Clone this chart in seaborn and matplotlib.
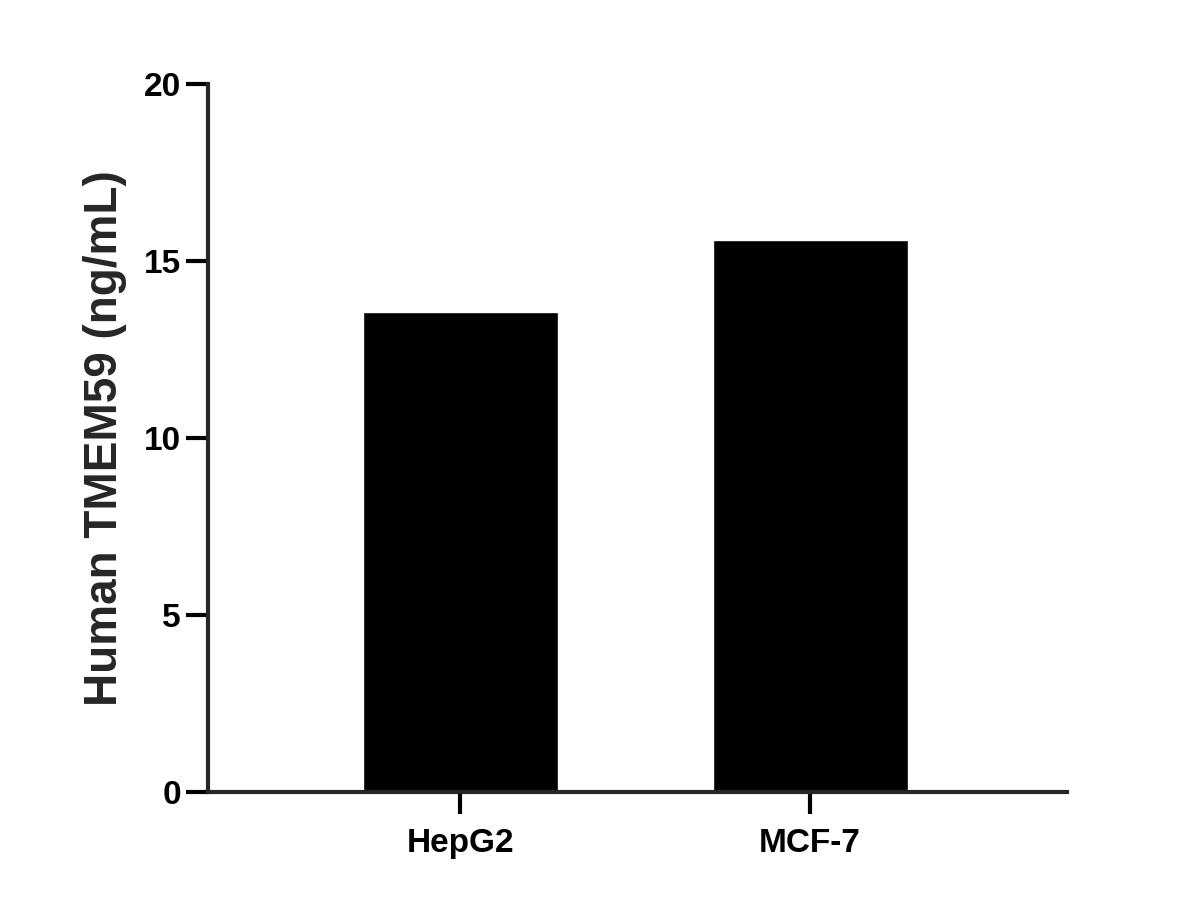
import matplotlib
matplotlib.use("Agg")
import matplotlib.pyplot as plt
import seaborn as sns
import pandas as pd

# values
cell_lines = ["HepG2", "MCF-7"]
tmem59 = [13.56, 15.58]
y_ticks = [0, 5, 10, 15, 20]

df = pd.DataFrame({"line": cell_lines, "value": tmem59})

sns.set_style("ticks")
plt.rcParams["font.family"] = ["Liberation Sans", "DejaVu Sans"]
plt.rcParams["font.weight"] = "bold"

fig = plt.figure(figsize=(12.03, 9.08), dpi=100)
ax = fig.add_axes([0.173, 0.128, 0.714, 0.7795])

sns.barplot(data=df, x="line", y="value", color="black", width=0.557,
            saturation=1, ax=ax)

ax.set_xlim(-0.72, 1.734)
ax.set_ylim(0, 20)
ax.set_yticks(y_ticks)
ax.set_xlabel("")
ax.set_ylabel("Human TMEM59 (ng/mL)", fontsize=33, fontweight="bold", labelpad=12)

for s in ["top", "right"]:
    ax.spines[s].set_visible(False)
for s in ["left", "bottom"]:
    ax.spines[s].set_linewidth(3)
ax.tick_params(axis="both", width=3, length=16, labelsize=24, colors="black")
ax.tick_params(axis="x", pad=10)
for lab in ax.get_xticklabels() + ax.get_yticklabels():
    lab.set_fontweight("bold")

fig.savefig("out.png", dpi=100)
